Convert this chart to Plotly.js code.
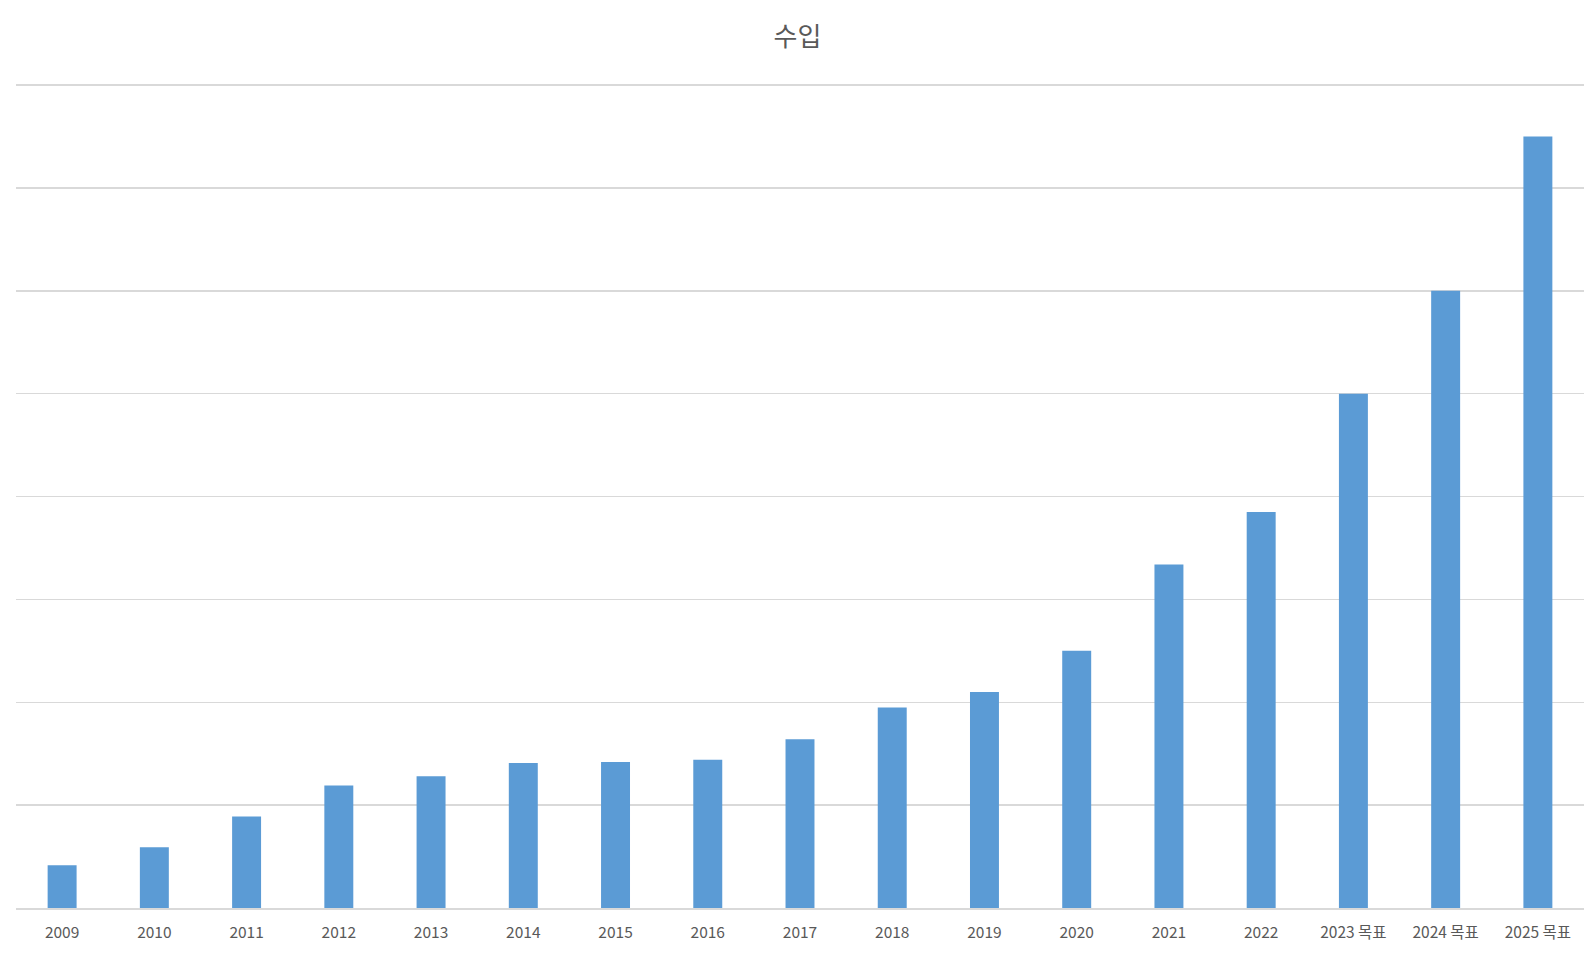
<!DOCTYPE html>
<html>
<head>
<meta charset="utf-8">
<script src="https://cdn.plot.ly/plotly-3.0.1.min.js"></script>
<style>html,body{margin:0;padding:0;background:#fff;}#chart{width:1595px;height:954px;}</style>
</head>
<body>
<div id="chart"></div>
<script>
const categories = ["2009","2010","2011","2012","2013","2014","2015","2016","2017","2018","2019","2020","2021","2022","2023 목표","2024 목표","2025 목표"];
const values = [0.415, 0.59, 0.89, 1.19, 1.28, 1.41, 1.42, 1.44, 1.64, 1.95, 2.10, 2.50, 3.34, 3.85, 5.0, 6.0, 7.5];
const chartTitle = "수입";

const trace = {
  type: "bar",
  x: categories,
  y: values,
  marker: {color: "#5B9BD5"},
  hoverinfo: "x+y"
};

const layout = {
  width: 1595,
  height: 954,
  paper_bgcolor: "#ffffff",
  plot_bgcolor: "#ffffff",
  margin: {l: 16, r: 11, t: 84, b: 46},
  bargap: 0.686,
  showlegend: false,
  font: {family: "'Noto Sans CJK KR', 'Noto Sans', sans-serif", color: "#595959"},
  title: {
    text: chartTitle,
    font: {size: 26, color: "#595959", family: "'Noto Sans CJK KR', sans-serif"},
    x: 0.5, xanchor: "center",
    y: 1 - 36.5/954, yanchor: "middle", yref: "container"
  },
  xaxis: {
    type: "category",
    showgrid: false,
    showline: true,
    linecolor: "#d9d9d9",
    linewidth: 1.5,
    ticks: "",
    tickfont: {size: 15.5, color: "#595959"},
    ticklabelstandoff: 10,
    fixedrange: true
  },
  yaxis: {
    range: [0, 8.01],
    tickvals: [1, 2, 3, 4, 5, 6, 7, 8],
    showgrid: true,
    gridcolor: "#d9d9d9",
    gridwidth: 1.5,
    zeroline: false,
    showticklabels: false,
    ticks: "",
    fixedrange: true
  }
};

Plotly.newPlot("chart", [trace], layout, {displayModeBar: false, staticPlot: true});
</script>
</body>
</html>
